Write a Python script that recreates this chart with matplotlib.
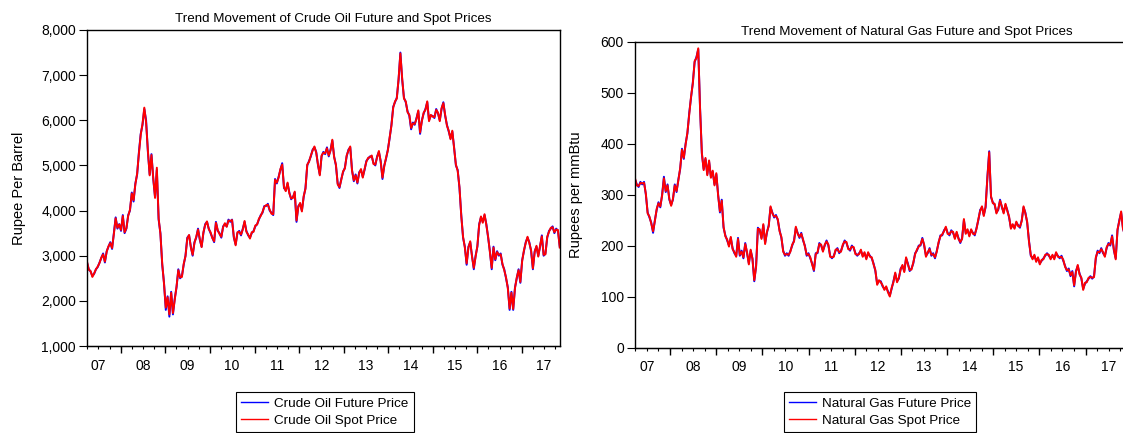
import pandas as pd
import matplotlib
matplotlib.use('Agg')
import matplotlib.pyplot as plt
import matplotlib.dates as mdates
from matplotlib.ticker import FuncFormatter, NullFormatter, FixedLocator
from matplotlib.lines import Line2D

plt.rcParams['font.family'] = ['Liberation Sans', 'DejaVu Sans']

# semi-monthly readings, Apr 2007 -> Oct 2017 (Rupee per barrel)
crude_future = [
    2850, 2700, 2650, 2550, 2600, 2700, 2750, 2850, 2950, 3050,
    2850, 3100, 3200, 3300, 3150, 3500, 3850, 3600, 3700, 3550,
    3900, 3500, 3600, 3900, 4000, 4400, 4200, 4600, 4800, 5300,
    5700, 5900, 6250, 6000, 5300, 4800, 5250, 4700, 4300, 4900,
    3800, 3500, 2800, 2400, 1800, 2100, 1650, 2200, 1700, 2050,
    2300, 2700, 2500, 2550, 2800, 3000, 3400, 3450, 3200, 3000,
    3300, 3400, 3600, 3350, 3200, 3500, 3700, 3750, 3600, 3500,
    3400, 3300, 3750, 3550, 3500, 3400, 3650, 3700, 3650, 3800,
    3750, 3800, 3400, 3250, 3500, 3550, 3450, 3600, 3750, 3550,
    3450, 3400, 3500, 3550, 3650, 3700, 3800, 3900, 3950, 4100,
    4100, 4150, 4000, 3950, 3900, 4700, 4600, 4750, 4900, 5050,
    4500, 4450, 4600, 4400, 4250, 4300, 4400, 3750, 4100, 4150,
    4000, 4300, 4500, 5000, 5100, 5200, 5350, 5400, 5300, 5000,
    4800, 5200, 5300, 5250, 5400, 5200, 5350, 5550, 5200, 5000,
    4600, 4500, 4700, 4850, 4950, 5200, 5350, 5400, 4900, 4650,
    4800, 4600, 4850, 4900, 4750, 4900, 5100, 5150, 5200, 5200,
    5050, 5000, 5200, 5300, 5100, 4700, 5000, 5150, 5350, 5600,
    5900, 6300, 6400, 6500, 6900, 7500, 6900, 6500, 6400, 6200,
    6100, 5800, 5950, 5900, 6050, 6200, 5700, 6000, 6150, 6250,
    6400, 6000, 6100, 6100, 6050, 6250, 6150, 6000, 6250, 6400,
    6100, 5900, 5750, 5600, 5750, 5400, 5000, 4900, 4500, 3900,
    3400, 3200, 2800, 3200, 3300, 3000, 2700, 3000, 3200, 3700,
    3850, 3750, 3900, 3700, 3400, 3100, 2700, 3200, 2900, 3100,
    3000, 3050, 2800, 2700, 2500, 2300, 1800, 2200, 1800, 2300,
    2500, 2700, 2400, 2900, 3100, 3300, 3400, 3300, 3100, 2700,
    3100, 3200, 3000, 3200, 3450, 3000, 3050, 3400, 3550, 3600,
    3650, 3500, 3600, 3550, 3200]

crude_spot = [
    2870, 2690, 2660, 2530, 2610, 2700, 2760, 2840, 2960, 3030,
    2870, 3090, 3210, 3280, 3170, 3480, 3830, 3620, 3690, 3570,
    3880, 3520, 3610, 3880, 4020, 4380, 4230, 4580, 4820, 5270,
    5680, 5920, 6280, 5950, 5330, 4780, 5230, 4720, 4280, 4950,
    3830, 3480, 2830, 2380, 1850, 2080, 1700, 2180, 1730, 2030,
    2320, 2680, 2520, 2530, 2820, 2990, 3380, 3460, 3180, 3020,
    3280, 3420, 3580, 3370, 3190, 3520, 3680, 3760, 3590, 3520,
    3390, 3320, 3730, 3570, 3480, 3420, 3630, 3720, 3640, 3780,
    3770, 3790, 3420, 3230, 3520, 3530, 3470, 3580, 3770, 3530,
    3470, 3380, 3520, 3530, 3670, 3690, 3820, 3880, 3970, 4080,
    4120, 4130, 4020, 3930, 3920, 4680, 4620, 4730, 4920, 5020,
    4520, 4430, 4620, 4380, 4270, 4280, 4420, 3780, 4080, 4170,
    3980, 4320, 4480, 5020, 5080, 5220, 5330, 5420, 5280, 5020,
    4780, 5220, 5280, 5270, 5380, 5220, 5330, 5570, 5180, 5020,
    4580, 4520, 4680, 4870, 4930, 5220, 5330, 5420, 4880, 4670,
    4780, 4620, 4830, 4920, 4730, 4920, 5080, 5170, 5180, 5220,
    5030, 5020, 5180, 5320, 5080, 4730, 4980, 5170, 5330, 5620,
    5880, 6280, 6420, 6480, 6920, 7480, 6930, 6480, 6420, 6180,
    6120, 5830, 5930, 5920, 6030, 6220, 5730, 5980, 6170, 6230,
    6420, 5980, 6120, 6080, 6070, 6230, 6170, 5980, 6270, 6380,
    6120, 5880, 5770, 5580, 5770, 5380, 5020, 4880, 4520, 3880,
    3420, 3180, 2830, 3180, 3320, 2980, 2730, 2980, 3220, 3680,
    3870, 3730, 3920, 3680, 3420, 3080, 2730, 3180, 2920, 3080,
    3020, 3030, 2820, 2680, 2520, 2280, 1830, 2180, 1820, 2280,
    2520, 2680, 2420, 2880, 3120, 3280, 3420, 3280, 3120, 2720,
    3080, 3220, 2980, 3220, 3430, 3020, 3030, 3420, 3530, 3620,
    3630, 3520, 3580, 3570, 3180]

# Rupees per mmBtu
gas_future = [
    330, 320, 315, 325, 320, 325, 300, 265, 255, 245,
    225, 250, 270, 285, 275, 300, 335, 305, 320, 290,
    280, 290, 320, 305, 330, 350, 390, 370, 400, 420,
    460, 490, 520, 560, 570, 585, 470, 380, 350, 370,
    340, 365, 335, 345, 320, 340, 300, 265, 290, 235,
    220, 210, 200, 215, 195, 185, 180, 215, 180, 190,
    175, 205, 185, 165, 190, 175, 130, 160, 235, 230,
    215, 240, 205, 225, 240, 275, 265, 255, 260, 250,
    230, 215, 190, 180, 185, 180, 190, 200, 210, 235,
    225, 215, 225, 210, 200, 180, 185, 175, 165, 150,
    185, 185, 205, 200, 190, 200, 210, 200, 180, 175,
    180, 190, 195, 185, 190, 200, 210, 205, 195, 190,
    200, 195, 185, 180, 185, 190, 180, 185, 175, 185,
    180, 175, 165, 150, 125, 130, 130, 120, 115, 118,
    110, 102, 115, 130, 145, 130, 135, 155, 160, 150,
    175, 165, 150, 155, 165, 185, 190, 200, 200, 215,
    200, 180, 185, 195, 180, 185, 175, 190, 205, 220,
    220, 230, 235, 225, 220, 230, 225, 215, 225, 215,
    205, 215, 250, 225, 230, 220, 230, 225, 220, 235,
    250, 270, 275, 260, 275, 335, 385, 295, 285, 280,
    265, 270, 290, 275, 265, 280, 270, 255, 235, 240,
    235, 245, 240, 235, 250, 275, 265, 245, 210, 180,
    175, 180, 170, 175, 165, 170, 175, 180, 185, 180,
    175, 180, 175, 185, 180, 175, 180, 170, 160, 150,
    155, 140, 150, 120, 150, 160, 145, 135, 115, 125,
    130, 135, 140, 135, 140, 175, 190, 185, 195, 185,
    180, 195, 205, 200, 220, 190, 175, 230, 250, 265,
    235, 220]

gas_spot = [
    332, 318, 317, 323, 322, 323, 302, 263, 257, 243,
    228, 248, 272, 283, 277, 298, 332, 307, 318, 292,
    278, 292, 318, 307, 328, 352, 388, 372, 398, 422,
    457, 492, 518, 562, 568, 587, 468, 382, 348, 372,
    338, 367, 333, 347, 318, 342, 298, 267, 288, 237,
    218, 212, 198, 217, 193, 187, 178, 213, 182, 188,
    177, 203, 187, 163, 192, 173, 132, 158, 233, 232,
    213, 242, 203, 227, 238, 277, 263, 257, 258, 252,
    228, 217, 188, 182, 183, 182, 188, 202, 208, 237,
    223, 217, 223, 212, 198, 182, 183, 177, 163, 152,
    183, 187, 203, 202, 188, 202, 208, 202, 178, 177,
    178, 192, 193, 187, 188, 202, 208, 207, 193, 192,
    198, 197, 183, 182, 183, 192, 178, 187, 173, 187,
    178, 177, 163, 152, 123, 132, 128, 122, 113, 120,
    108, 100, 117, 128, 147, 128, 137, 153, 162, 148,
    177, 163, 152, 153, 167, 183, 192, 198, 202, 213,
    202, 178, 187, 193, 182, 183, 177, 188, 207, 218,
    222, 228, 237, 223, 222, 228, 227, 213, 227, 213,
    207, 213, 252, 223, 232, 218, 232, 223, 222, 233,
    252, 268, 277, 258, 277, 333, 383, 297, 283, 282,
    263, 272, 288, 277, 263, 282, 268, 257, 233, 242,
    233, 247, 238, 237, 248, 277, 263, 247, 208, 182,
    173, 182, 168, 177, 163, 172, 173, 182, 183, 182,
    173, 182, 173, 187, 178, 177, 178, 172, 158, 152,
    153, 142, 148, 122, 148, 162, 143, 137, 113, 127,
    128, 137, 138, 137, 138, 177, 188, 187, 193, 187,
    178, 197, 203, 202, 218, 192, 173, 232, 248, 267,
    233, 222]

first_day, last_day = '2007-03-30', '2017-11-06'
crude_dates = pd.date_range(first_day, last_day, periods=len(crude_future))
gas_dates = pd.date_range(first_day, last_day, periods=len(gas_future))

W, H = 1123, 433
fig = plt.figure(figsize=(W / 100, H / 100), dpi=100)
ax1 = fig.add_axes([87 / W, 1 - 346 / H, 473 / W, 316 / H])
ax2 = fig.add_axes([635 / W, 1 - 347.5 / H, 490 / W, 305.8 / H])

years = pd.date_range('2008-01-01', '2017-01-01', freq='YS')
quarters = pd.date_range('2007-04-01', '2017-10-01', freq='QS')
mid_years = pd.date_range('2007-07-01', '2017-07-01', freq='12MS')


def eviews_axes(ax):
    ax.set_xlim(pd.Timestamp('2007-03-30'), pd.Timestamp('2017-11-08'))
    for s in ax.spines.values():
        s.set_linewidth(1.0)
    # year labels sit between the year ticks
    ax.xaxis.set_major_locator(FixedLocator(mdates.date2num(mid_years)))
    ax.xaxis.set_major_formatter(FuncFormatter(
        lambda v, p: mdates.num2date(v).strftime('%y')))
    ax.xaxis.set_minor_locator(FixedLocator(mdates.date2num(quarters)))
    ax.xaxis.remove_overlapping_locs = False
    ax.tick_params(axis='x', which='major', length=0, pad=9, labelsize=10)
    ax.tick_params(axis='x', which='minor', length=2.5, width=0.8)
    ax.tick_params(axis='y', length=6, width=0.8, pad=2, labelsize=10)
    sec = ax.secondary_xaxis('bottom')
    sec.xaxis.set_major_locator(FixedLocator(mdates.date2num(years)))
    sec.xaxis.set_major_formatter(NullFormatter())
    sec.tick_params(length=5, width=1.0)


ax1.plot(crude_dates, crude_future, color='#0000ff', lw=1.4)
ax1.plot(crude_dates, crude_spot, color='#ff0000', lw=1.4)
ax1.set_ylim(1000, 8000)
ax1.set_yticks(range(1000, 8001, 1000))
ax1.yaxis.set_major_formatter(FuncFormatter(lambda v, p: f'{v:,.0f}'))
eviews_axes(ax1)
ax1.set_ylabel('Rupee Per Barrel', fontsize=10.5)
ax1.yaxis.set_label_coords(-0.128, 0.5)
ax1.text(0.52, 1.035, 'Trend Movement of Crude Oil Future and Spot Prices',
         transform=ax1.transAxes, ha='center', va='center', fontsize=9.6)

ax2.plot(gas_dates, gas_future, color='#0000ff', lw=1.4)
ax2.plot(gas_dates, gas_spot, color='#ff0000', lw=1.4)
ax2.set_ylim(0, 600)
ax2.set_yticks(range(0, 601, 100))
eviews_axes(ax2)
ax2.set_ylabel('Rupees per mmBtu', fontsize=10.5)
ax2.yaxis.set_label_coords(-0.106, 0.5)
ax2.text(0.555, 1.032, 'Trend Movement of Natural Gas Future and Spot Prices',
         transform=ax2.transAxes, ha='center', va='center', fontsize=9.6)

for ax, centre, names in [(ax1, 325, ['Crude Oil Future Price', 'Crude Oil Spot Price']),
                          (ax2, 880, ['Natural Gas Future Price', 'Natural Gas Spot Price'])]:
    handles = [Line2D([], [], color='#0000ff', lw=1.0),
               Line2D([], [], color='#ff0000', lw=1.0)]
    leg = fig.legend(handles, names, loc='upper center',
                     bbox_to_anchor=(centre / W, 1 - 392 / H),
                     fontsize=9.7, frameon=True, fancybox=False,
                     edgecolor='black', framealpha=1, borderpad=0.38,
                     labelspacing=0.35, handlelength=2.0, handletextpad=0.45,
                     borderaxespad=0)
    leg.get_frame().set_linewidth(0.8)

fig.savefig('out.png', dpi=100)
